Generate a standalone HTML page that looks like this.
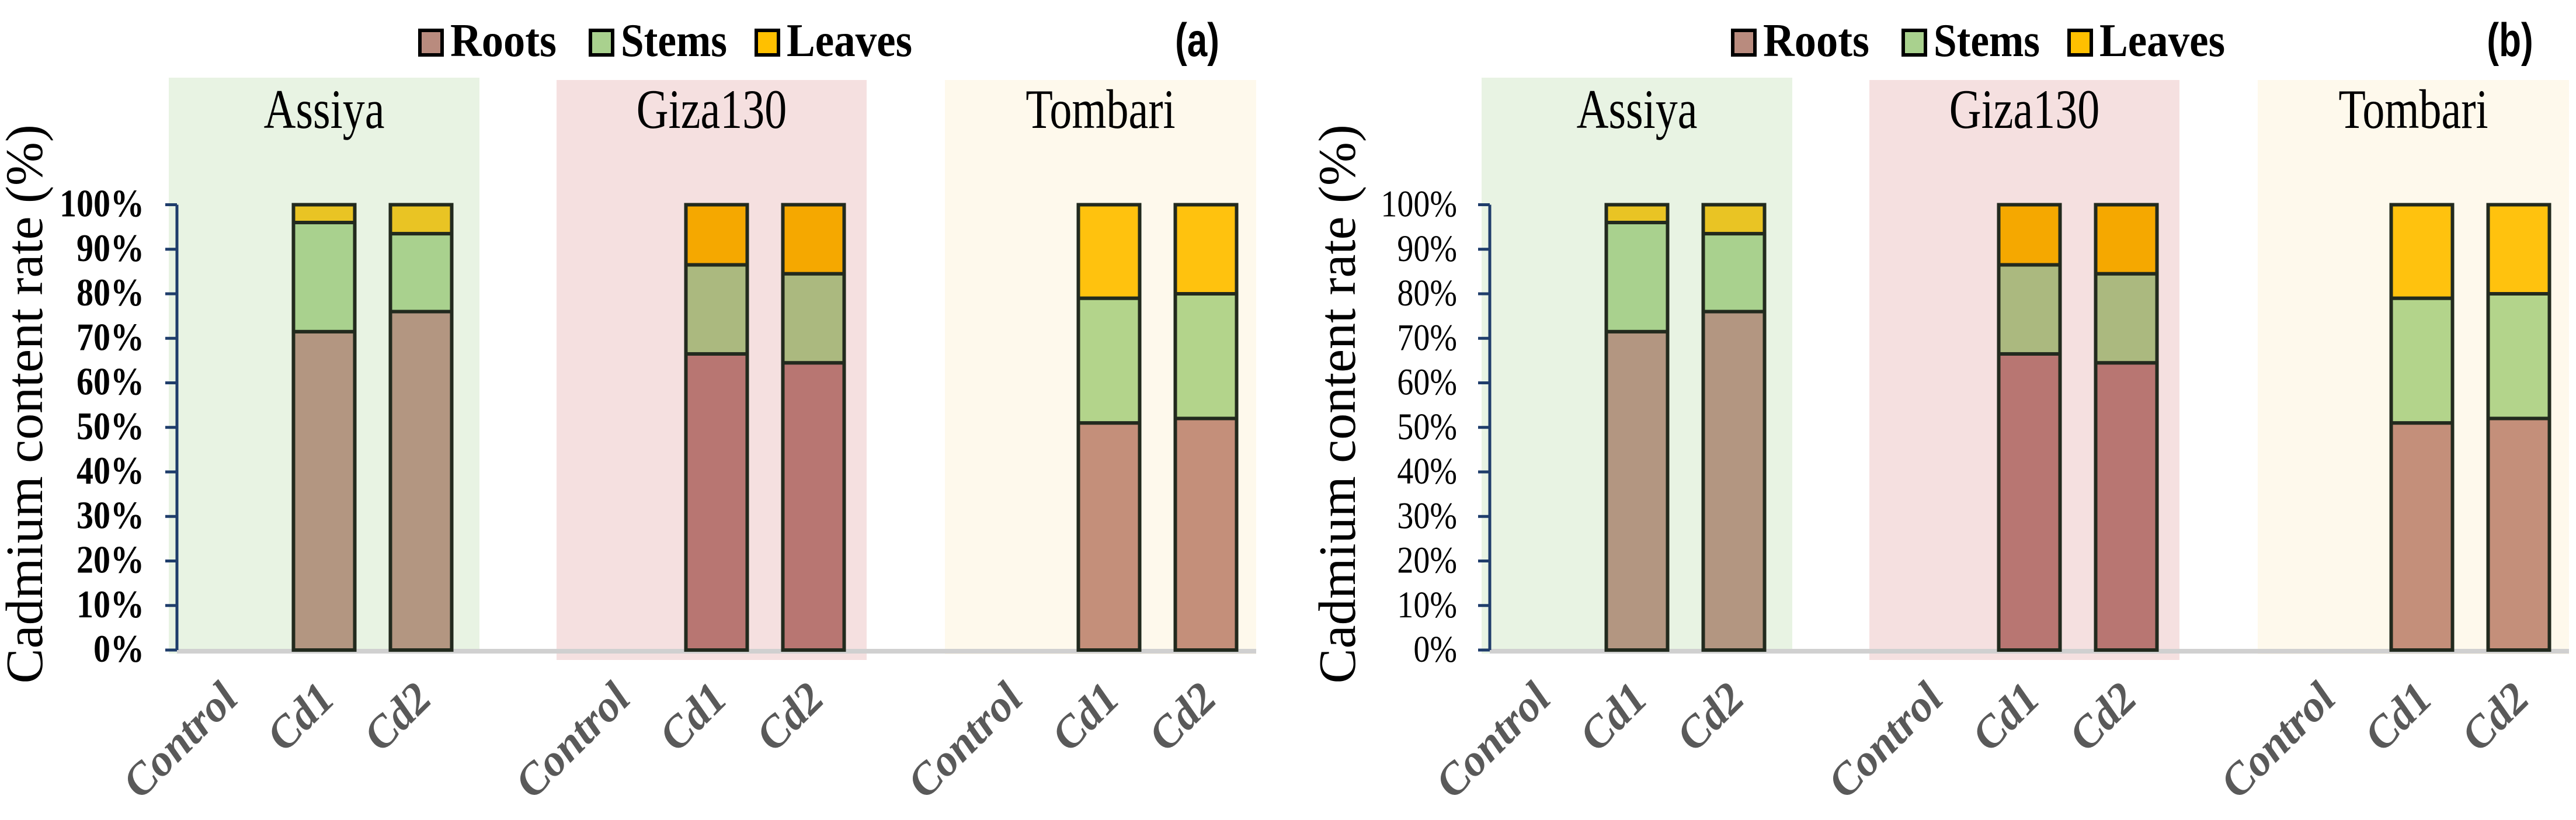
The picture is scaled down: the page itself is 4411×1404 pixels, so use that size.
<!DOCTYPE html>
<html><head><meta charset="utf-8"><style>
html,body{margin:0;padding:0;background:#fff;}
svg{display:block;}
</style></head><body>
<svg id="chart" xmlns="http://www.w3.org/2000/svg" width="4411" height="1404" viewBox="0 0 4411 1404"></svg>
<script>
const varieties = ["Assiya","Giza130","Tombari"];
const treatments = ["Control","Cd1","Cd2"];
const roots = [[0,71.5,76],[0,66.5,64.5],[0,51,52]];
const stems = [[0,24.5,17.5],[0,20,20],[0,28,28]];
const leaves = [[0,4,6.5],[0,13.5,15.5],[0,21,20]];
const yTicks = [0,10,20,30,40,50,60,70,80,90,100];
const panels = ["(a)","(b)"];

const NS="http://www.w3.org/2000/svg";
const svg=document.getElementById('chart');
function mk(tag,attrs,parent){const e=document.createElementNS(NS,tag);for(const k in attrs)e.setAttribute(k,attrs[k]);(parent||svg).appendChild(e);return e;}
const rootCol=["#b39681","#b87672","#c48f7a"];
const stemCol=["#a9d18e","#abb97f","#b3d48b"];
const leafCol=["#e9c424","#f5a800","#ffc20e"];
const bandCol=["#e8f3e3","#f5e0e0","#fef9ec"];
const bandX=[[289,821],[953,1484],[1618,2151]];
const bandY=[[133,1119],[137,1130],[137,1120]];
function yS(v){return 1113 - v/100*762.5;}
function xS(g,t){return 389 + g*672 + t*166;}
const barW=105;

panels.forEach((p,pi)=>{
  const off=pi*2248;
  const g=mk('g',{transform:`translate(${off},0)`});
  
  
  varieties.forEach((v,vi)=>{
    const r=mk('rect',{x:bandX[vi][0],y:bandY[vi][0],width:bandX[vi][1]-bandX[vi][0],height:bandY[vi][1]-bandY[vi][0],fill:bandCol[vi]},g);
    
    
    const t=mk('text',{x:0,y:0,transform:`translate(${(bandX[vi][0]+bandX[vi][1])/2},219) scale(1,1.25)`,'text-anchor':'middle','font-family':'Liberation Serif, serif','font-size':76,fill:'#000'},g);
    t.textContent=v;
    
    
  });
  const bl=mk('line',{x1:303,x2:2151,y1:1115,y2:1115,stroke:'#d0d0d0','stroke-width':8},g);
  
  
  const ax=mk('line',{x1:303,x2:303,y1:yS(100),y2:yS(0),stroke:'#1f3d6b','stroke-width':5},g);
  
  
  yTicks.forEach(tv=>{
    const tk=mk('line',{x1:283,x2:303,y1:yS(tv),y2:yS(tv),stroke:'#1f3d6b','stroke-width':5},g);
    
    
    const tl=mk('text',{x:0,y:0,transform:`translate(247,${yS(tv)+20}) scale(1,1.15)`,'text-anchor':'end','font-family':'Liberation Serif, serif','font-size':pi?56:58,'font-weight':pi?'normal':'bold',fill:'#000'},g);
    tl.textContent=tv+'%';
    
    
  });
  const yt=mk('text',{x:0,y:0,transform:`translate(72,${yS(50)-40}) rotate(-90)`,'text-anchor':'middle','font-family':'Liberation Serif, serif','font-size':90,fill:'#000'},g);
  yt.textContent='Cadmium content rate (%)';
  
  
  varieties.forEach((v,vi)=>{
    treatments.forEach((tr,ti)=>{
      const cx=xS(vi,ti);
      const segs=[[roots[vi][ti],rootCol[vi],'roots'],[stems[vi][ti],stemCol[vi],'stems'],[leaves[vi][ti],leafCol[vi],'leaves']];
      let acc=0;
      segs.forEach(s=>{
        if(s[0]>0){
          const b=mk('rect',{x:cx-barW/2,y:yS(acc+s[0]),width:barW,height:yS(acc)-yS(acc+s[0]),fill:s[1],stroke:'#222a1e','stroke-width':6},g);
          
          
        }
        acc+=s[0];
      });
      const xl=mk('text',{x:0,y:0,transform:`translate(${cx+22},1200) rotate(-45)`,'text-anchor':'end','font-family':'Liberation Serif, serif','font-size':76,'font-weight':'bold','font-style':'italic',fill:'#595959'},g);
      xl.textContent=tr;
      
      
    });
  });
  const leg=[["Roots","#b98b7e",719],["Stems","#a9d18e",1011],["Leaves","#ffc000",1295]];
  leg.forEach(l=>{
    const sq=mk('rect',{x:l[2],y:52,width:38,height:42,fill:l[1],stroke:'#000','stroke-width':6},g);
    
    
    const lt=mk('text',{x:0,y:0,transform:`translate(${l[2]+52},96) scale(1,1.3)`,'font-family':'Liberation Serif, serif','font-size':62,'font-weight':'bold',fill:'#000',textLength:l[0]==='Leaves'?215:182,lengthAdjust:'spacingAndGlyphs'},g);
    lt.textContent=l[0];
    
    
  });
  const pl=mk('text',{x:0,y:0,transform:`translate(2050,96) scale(1,1.3)`,'text-anchor':'middle','font-family':'Liberation Sans, sans-serif','font-size':62,'font-weight':'bold',fill:'#000'},g);
  pl.textContent=p;
  
  
});
</script>
</body></html>
